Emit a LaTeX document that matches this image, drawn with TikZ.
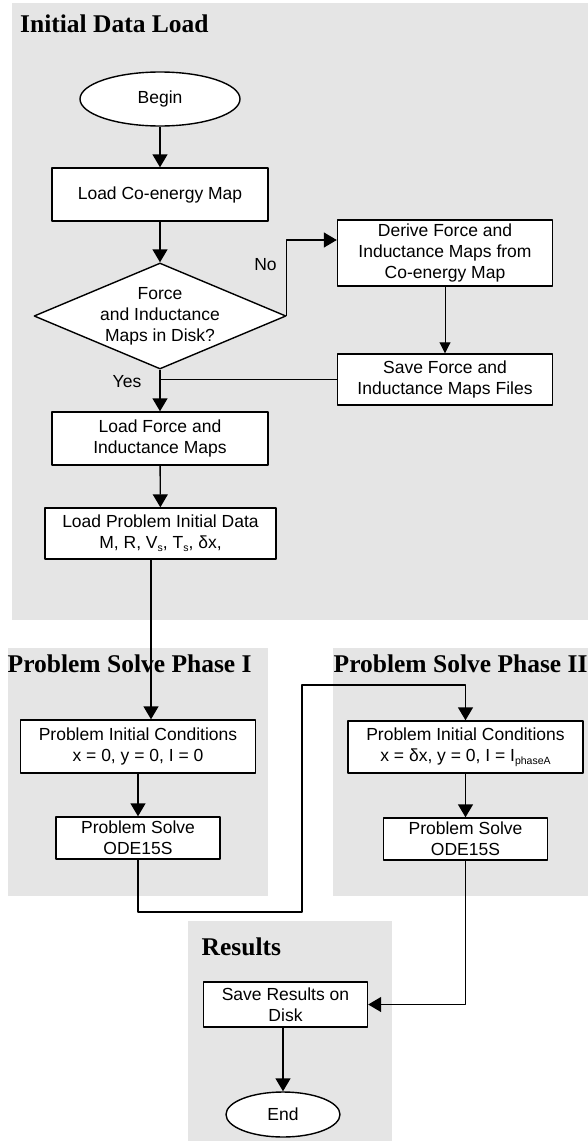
\documentclass[tikz,border=0pt]{standalone}
\usepackage{fontspec}
\setmainfont{Liberation Sans}
\newfontfamily\titlefont{Liberation Serif}
\usetikzlibrary{shapes.geometric,arrows.meta,calc}
\definecolor{khung}{RGB}{229,229,229}
\newcommand\chiso[1]{\raisebox{-0.35ex}{\fontsize{10.5}{10.5}\selectfont#1}}

\begin{document}
\begin{tikzpicture}[x=1pt,y=-1pt,line join=round,line width=1.4pt,
	>={Triangle[length=13pt,width=15pt]},
	hop/.style={draw,fill=white,align=center,inner sep=2pt,font=\fontsize{17.5}{21}\selectfont},
	vien/.style={hop,ellipse},
	hoi/.style={hop,diamond,aspect=2.38,inner sep=-5pt,minimum width=252pt,minimum height=106pt},
	tieude/.style={anchor=base west,inner sep=0,font=\titlefont\bfseries\fontsize{25.5}{30}\selectfont},
	nhan/.style={font=\fontsize{17.5}{21}\selectfont}]
	\useasboundingbox (0,0) rectangle (588,1143);
	% Các vùng nền
	\fill[khung] (12,3) rectangle (588,620);
	\fill[khung] (7.5,648) rectangle (268,896);
	\fill[khung] (333,648) rectangle (588,896);
	\fill[khung] (187.5,921) rectangle (392,1141);
	\node[tieude] (t1) at (19.5,32) {Initial Data Load};
	\node[tieude] (t2) at (7,672) {Problem Solve Phase I};
	\node[tieude] (t3) at (333,672) {Problem Solve Phase II};
	\node[tieude] (t4) at (201,955) {Results};
	% Các khối
	\node[vien,minimum width=160pt,minimum height=54pt] (B) at (160,99) {Begin};
	\node[hop,minimum width=216pt,minimum height=53pt] (L1) at (160,194.5) {Load Co-energy Map};
	\node[hoi] (Q) at (160,316) {Force\\and Inductance\\Maps in Disk?};
	\node[hop,minimum width=215pt,minimum height=66pt] (D) at (445,253) {Derive Force and\\Inductance Maps from\\Co-energy Map};
	\node[hop,minimum width=215pt,minimum height=51pt] (S) at (445,379.5) {Save Force and\\Inductance Maps Files};
	\node[hop,minimum width=216pt,minimum height=53pt] (L2) at (160,438.5) {Load Force and\\Inductance Maps};
	\node[hop,minimum width=231pt,minimum height=51pt] (L3) at (160.5,533.5) {Load Problem Initial Data\\M, R, V\chiso{s}, T\chiso{s}, δx,};
	\node[hop,minimum width=235pt,minimum height=53pt] (C1) at (138,746.5) {Problem Initial Conditions\\x = 0, y = 0, I = 0};
	\node[hop,minimum width=164pt,minimum height=42pt] (P1) at (138,838) {Problem Solve\\ODE15S};
	\node[hop,minimum width=235pt,minimum height=52pt] (C2) at (465.5,747) {Problem Initial Conditions\\x = δx, y = 0, I = I\chiso{phaseA}};
	\node[hop,minimum width=164pt,minimum height=42pt] (P2) at (465.5,839) {Problem Solve\\ODE15S};
	\node[hop,minimum width=164pt,minimum height=45pt] (R) at (285.5,1004.5) {Save Results on\\Disk};
	\node[vien,minimum width=114pt,minimum height=45pt] (E) at (283,1114.5) {End};
	% Các đường nối
	\coordinate (A) at (151,559);
	\coordinate (G1) at (302,912);
	\coordinate (G2) at (302,685);
	\draw[->] (B) -- (L1);
	\draw[->] (L1) -- (Q);
	\draw[->] (Q.east) |- ([yshift=13pt]D.west);
	\draw[->,line width=0.9pt,>={Triangle[length=11pt,width=11pt]}] (D) -- (S);
	\draw (S.west) -- (S.west -| Q.south);
	\draw[->] (Q.south) -- (L2.north);
	\draw[->] (L2) -- (L3);
	\draw[->] (A) -- (A |- C1.north);
	\draw[->] (C1) -- (P1);
	\draw[->] (P1.south) |- (G1) -- (G2) -| (C2.north);
	\draw[->] (C2) -- (P2);
	\draw[->] (P2.south) |- (R.east);
	\draw[->] (R.south -| E.north) -- (E.north);
	\node[nhan] (no) at (265.5,265) {No};
	\node[nhan] (yes) at (127,382) {Yes};
\end{tikzpicture}
\end{document}
